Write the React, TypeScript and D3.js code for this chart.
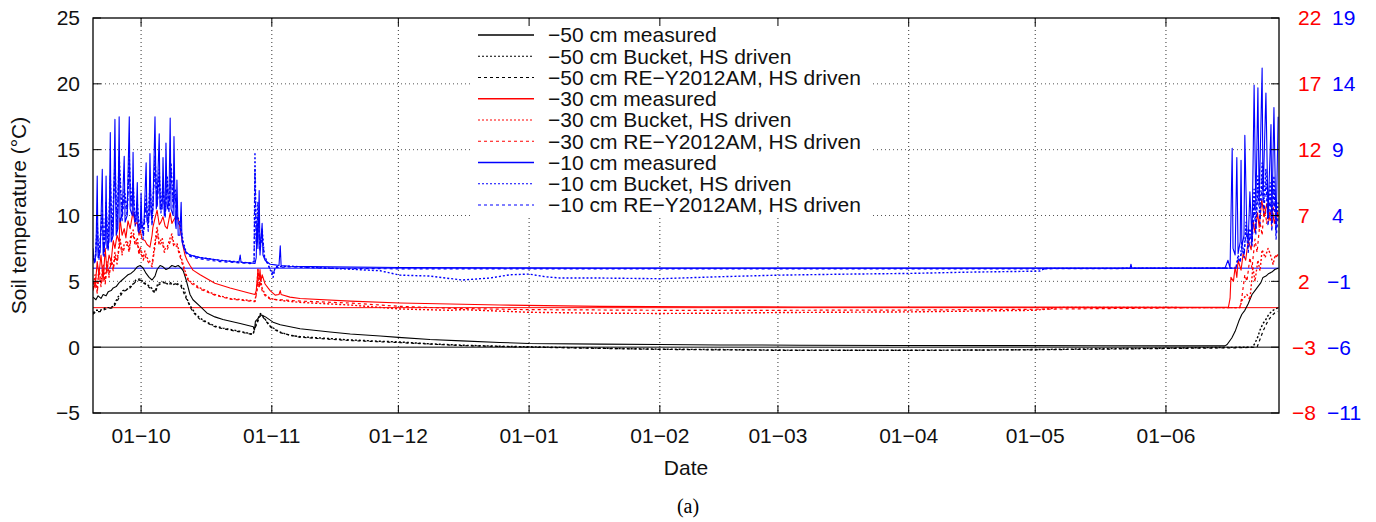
import React from "react";
import * as d3 from "d3";

// Time axis: days since 2012-10-01 (UTC); negative days are late September 2012.
const BASE = Date.UTC(2012, 9, 1);
const DAY_START = -11.4;
const DAY_END = 269.8;

const Y_LEFT_TICKS = [-5, 0, 5, 10, 15, 20, 25];
const Y_RED_TICKS = [-8, -3, 2, 7, 12, 17, 22];
const Y_BLUE_TICKS = [-11, -6, -1, 4, 9, 14, 19];

// -50 cm (left axis, °C)
const M50_MEASURED: [number, number][] = [
  [-11.4, 3.8], [-10.7, 3.6], [-10.2, 3.9], [-9.5, 3.7], [-9.0, 4.0], [-8.3, 3.9], [-7.8, 4.2], [-7.1, 4.3],
  [-6.6, 4.5], [-5.9, 4.6], [-5.2, 4.9], [-4.5, 5.1], [-3.8, 5.3], [-3.1, 5.5], [-2.4, 5.6], [-1.7, 5.8],
  [-0.9, 6.1], [-0.2, 6.2], [0.5, 6.0], [1.2, 5.6], [1.9, 5.3], [2.6, 5.1], [3.3, 5.4], [3.8, 5.9],
  [4.5, 6.2], [5.2, 6.1], [5.9, 5.9], [6.6, 6.0], [7.3, 6.2], [8.1, 6.1], [8.8, 6.2], [9.5, 6.0],
  [10.0, 5.8], [10.7, 5.1], [11.6, 4.0], [12.3, 3.6], [14.0, 3.1], [15.6, 2.6], [17.5, 2.3], [19.4, 2.1],
  [23.5, 1.8], [26.6, 1.55], [26.9, 1.3], [27.1, 1.95], [27.8, 2.2], [28.6, 2.45], [29.5, 2.3], [31.3, 1.9],
  [33.0, 1.7], [37.7, 1.4], [44.8, 1.15], [49.6, 1.0], [56.7, 0.85], [61.0, 0.74], [68.5, 0.58], [76.0, 0.48],
  [85.0, 0.36], [92.0, 0.28], [108.8, 0.23], [123.0, 0.2], [137.3, 0.17], [156.2, 0.15], [180.0, 0.13],
  [203.7, 0.12], [227.4, 0.11], [251.1, 0.1], [257.0, 0.1], [257.5, 0.2], [258.6, 0.7], [259.4, 1.2],
  [260.3, 2.0], [261.0, 2.5], [261.7, 2.8], [262.5, 3.3], [263.4, 4.0], [264.1, 4.3], [264.8, 4.6],
  [265.5, 4.9], [266.0, 5.3], [266.7, 5.4], [267.4, 5.6], [268.1, 5.7], [268.8, 5.9], [269.6, 6.0],
];
const M50_BUCKET: [number, number][] = [
  [-11.4, 2.6], [-10.7, 2.8], [-9.7, 2.8], [-9.0, 2.9], [-8.3, 3.0], [-7.6, 3.0], [-6.6, 3.1], [-5.5, 3.8],
  [-4.3, 4.3], [-3.3, 4.4], [-2.6, 4.6], [-1.9, 4.8], [-1.2, 5.1], [-0.2, 5.2], [0.5, 4.95], [1.2, 4.8],
  [2.1, 4.6], [2.8, 4.4], [3.3, 4.2], [4.0, 4.85], [5.2, 4.95], [6.2, 4.8], [6.9, 4.9], [7.6, 4.75],
  [8.3, 4.85], [9.5, 4.7], [10.2, 4.4], [10.7, 3.8], [11.4, 3.3], [11.9, 3.0], [13.0, 2.5], [14.0, 2.2],
  [15.6, 1.9], [17.5, 1.6], [19.4, 1.45], [23.5, 1.2], [26.3, 1.0], [26.6, 1.0], [26.8, 1.4], [27.5, 1.9],
  [28.0, 2.4], [28.3, 2.55], [29.0, 2.3], [30.6, 1.6], [32.9, 1.15], [35.3, 0.9], [37.7, 0.8], [44.8, 0.65],
  [49.6, 0.55], [56.7, 0.45], [61.0, 0.4], [68.5, 0.25], [76.0, 0.15], [85.0, 0.07], [92.0, 0.03],
  [108.8, -0.08], [123.0, -0.15], [137.3, -0.18], [151.0, -0.22], [168.0, -0.23], [182.0, -0.23],
  [196.5, -0.22], [212.0, -0.18], [227.4, -0.12], [243.0, -0.08], [251.0, -0.04], [263.5, 0.0],
  [264.1, 0.3], [264.8, 0.8], [265.3, 1.3], [266.0, 1.8], [266.5, 2.0], [267.2, 2.4], [267.7, 2.6],
  [268.4, 2.8], [268.9, 2.9], [269.6, 3.0],
];
const M50_RE: [number, number][] = [
  [-11.4, 2.5], [-10.7, 2.7], [-9.7, 2.7], [-8.3, 2.9], [-6.6, 3.0], [-5.5, 3.6], [-4.3, 4.2], [-2.6, 4.5],
  [-1.2, 5.0], [-0.2, 5.1], [0.5, 4.9], [2.1, 4.5], [3.3, 4.1], [4.0, 4.7], [5.2, 4.9], [6.9, 4.8],
  [8.3, 4.8], [9.5, 4.6], [10.7, 3.7], [11.9, 2.9], [13.0, 2.4], [14.0, 2.1], [15.6, 1.85], [17.5, 1.55],
  [19.4, 1.4], [23.5, 1.15], [26.6, 0.95], [26.8, 1.3], [27.5, 1.8], [28.3, 2.5], [29.0, 2.25], [30.6, 1.55],
  [32.9, 1.1], [37.7, 0.75], [49.6, 0.5], [61.0, 0.35], [76.0, 0.12], [92.0, 0.0], [123.0, -0.17],
  [151.0, -0.24], [182.0, -0.25], [212.0, -0.2], [243.0, -0.1], [260.0, -0.05], [264.6, 0.0], [265.3, 0.6],
  [266.0, 1.2], [266.7, 1.7], [267.4, 2.1], [268.1, 2.4], [268.8, 2.6], [269.6, 2.7],
];

// -30 cm (red axis, °C)
const M30_MEASURED: [number, number][] = [
  [-11.4, 2.0], [-10.9, 1.5], [-10.4, 3.5], [-10.0, 2.5], [-9.5, 4.0], [-9.0, 2.0], [-8.5, 4.5], [-8.1, 2.8],
  [-7.6, 4.0], [-7.1, 3.5], [-6.6, 5.1], [-6.2, 4.5], [-5.7, 5.5], [-5.2, 5.0], [-5.0, 6.8], [-4.5, 5.5],
  [-4.0, 6.0], [-3.6, 5.3], [-3.1, 6.6], [-2.6, 6.0], [-1.9, 7.3], [-1.4, 6.3], [-0.9, 6.5], [-0.5, 5.5],
  [-0.2, 5.9], [0.2, 5.2], [0.9, 5.1], [1.4, 4.8], [2.1, 4.6], [2.6, 5.5], [2.8, 6.1], [3.3, 6.8],
  [3.8, 7.4], [4.3, 6.3], [4.7, 6.5], [5.2, 6.9], [5.7, 6.2], [6.2, 6.0], [6.9, 7.2], [7.3, 6.4],
  [7.8, 6.7], [8.5, 7.0], [9.0, 6.5], [9.2, 6.1], [9.7, 5.2], [10.0, 4.6], [10.4, 4.0], [10.9, 3.6],
  [11.6, 3.2], [12.3, 2.85], [14.0, 2.5], [17.5, 1.85], [21.1, 1.5], [25.8, 1.1], [27.0, 1.0], [27.3, 1.3],
  [27.5, 2.0], [27.7, 2.8], [28.0, 2.2], [28.2, 2.9], [28.4, 2.0], [28.7, 2.5], [29.4, 1.8], [30.1, 1.5],
  [30.6, 1.3], [31.8, 0.95], [32.7, 1.0], [33.0, 1.3], [33.2, 1.0], [35.3, 0.8], [37.7, 0.7], [49.6, 0.5],
  [61.4, 0.35], [85.1, 0.2], [108.8, 0.1], [132.5, 0.07], [156.2, 0.05], [203.7, 0.04], [251.1, 0.03],
  [257.8, 0.03], [258.2, 0.7], [258.4, 2.3], [259.0, 2.0], [259.4, 3.1], [259.8, 2.3], [260.1, 3.6],
  [260.8, 2.85], [261.3, 4.1], [261.9, 3.6], [262.5, 5.1], [263.2, 4.4], [263.7, 6.6], [264.1, 5.7],
  [264.7, 7.2], [265.1, 6.1], [265.7, 8.2], [266.3, 6.9], [266.9, 7.9], [267.4, 6.6], [268.1, 7.6],
  [268.7, 6.4], [269.3, 7.4], [269.6, 6.9],
];
const M30_BUCKET: [number, number][] = [
  [-11.4, 1.5], [-10.9, 2.5], [-10.4, 1.3], [-10.0, 3.0], [-9.5, 1.8], [-9.0, 3.3], [-8.5, 2.0], [-8.1, 3.5],
  [-7.6, 2.5], [-7.1, 3.8], [-6.6, 3.0], [-6.2, 4.2], [-5.7, 3.5], [-5.0, 5.3], [-4.5, 4.2], [-4.0, 4.8],
  [-3.3, 5.1], [-2.8, 4.4], [-2.4, 5.6], [-1.9, 5.9], [-1.4, 4.9], [-0.9, 5.3], [-0.5, 4.2], [-0.2, 4.6],
  [0.5, 3.8], [0.9, 4.3], [1.4, 3.8], [2.1, 3.5], [2.6, 3.3], [3.1, 4.5], [3.8, 6.1], [4.3, 4.9],
  [5.0, 5.3], [5.5, 4.4], [6.2, 4.6], [6.9, 5.3], [7.3, 5.6], [7.8, 4.8], [8.5, 4.9], [9.0, 4.3],
  [9.7, 3.6], [10.4, 2.8], [10.9, 2.3], [11.6, 2.0], [12.3, 1.85], [14.0, 1.5], [17.5, 1.0], [21.1, 0.7],
  [25.8, 0.55], [27.0, 0.5], [27.5, 1.5], [27.7, 3.0], [28.0, 1.6], [28.2, 2.3], [28.7, 1.5], [29.4, 1.0],
  [30.6, 0.7], [33.0, 0.55], [37.7, 0.4], [49.6, 0.2], [61.4, -0.1], [73.3, -0.2], [76.1, -0.15],
  [92.0, -0.35], [108.8, -0.42], [123.0, -0.44], [137.3, -0.42], [151.0, -0.37], [182.1, -0.32],
  [212.0, -0.2], [218.1, 0.02], [260.5, 0.0], [261.0, 0.55], [262.2, 1.0], [262.9, 0.6], [263.4, 2.3],
  [263.6, 3.1], [264.1, 2.0], [264.8, 3.6], [265.3, 2.8], [265.8, 4.4], [266.5, 3.8], [267.2, 4.5],
  [267.7, 4.1], [268.4, 3.3], [268.9, 4.0], [269.3, 3.8], [269.6, 4.2],
];
const M30_RE: [number, number][] = [
  [-11.4, 1.3], [-10.9, 2.2], [-10.4, 1.1], [-10.0, 2.7], [-9.5, 1.6], [-9.0, 3.0], [-8.5, 1.8], [-8.1, 3.2],
  [-7.6, 2.3], [-7.1, 3.5], [-6.6, 2.8], [-6.2, 3.9], [-5.7, 3.3], [-5.0, 5.0], [-4.5, 4.0], [-4.0, 4.5],
  [-3.3, 4.8], [-2.8, 4.2], [-2.4, 5.3], [-1.9, 5.6], [-1.4, 4.7], [-0.9, 5.0], [-0.5, 4.0], [-0.2, 4.3],
  [0.5, 3.6], [0.9, 4.0], [1.4, 3.6], [2.1, 3.3], [2.6, 3.1], [3.1, 4.2], [3.8, 5.8], [4.3, 4.7],
  [5.0, 5.0], [5.5, 4.2], [6.2, 4.4], [6.9, 5.0], [7.3, 5.3], [7.8, 4.6], [8.5, 4.7], [9.0, 4.1],
  [9.7, 3.4], [10.4, 2.6], [10.9, 2.2], [11.6, 1.9], [12.3, 1.75], [14.0, 1.4], [17.5, 0.95], [21.1, 0.65],
  [25.8, 0.5], [27.0, 0.45], [27.5, 1.3], [27.7, 2.2], [28.0, 1.5], [28.2, 2.0], [28.7, 1.3], [29.4, 0.9],
  [30.6, 0.65], [33.0, 0.6], [37.7, 0.5], [49.6, 0.35], [61.4, 0.1], [73.3, -0.05], [92.0, -0.15],
  [123.0, -0.2], [151.0, -0.2], [182.0, -0.18], [212.0, -0.12], [235.0, -0.05], [250.0, 0.0], [260.5, 0.0],
  [261.0, 0.8], [261.7, 2.5], [262.2, 2.0], [262.9, 3.8], [263.4, 3.0], [264.1, 5.2], [264.6, 4.2],
  [265.3, 6.5], [265.8, 5.5], [266.3, 7.8], [266.9, 6.4], [267.4, 7.5], [268.1, 6.2], [268.6, 7.9],
  [269.1, 6.5], [269.6, 7.2],
];

// -10 cm (blue axis, °C)
const M10_MEASURED: [number, number][] = [
  [-11.4, 1.5], [-11.1, 0.4], [-10.7, 1.0], [-10.4, 7.0], [-10.2, 0.8], [-9.7, 1.2], [-9.2, 7.5], [-9.0, 1.0],
  [-8.5, 2.0], [-8.3, 7.0], [-8.1, 1.5], [-7.6, 2.0], [-7.3, 10.3], [-7.1, 2.0], [-6.6, 2.5], [-6.2, 11.3],
  [-5.9, 2.5], [-5.5, 3.0], [-5.2, 11.5], [-5.0, 3.5], [-4.5, 4.0], [-4.0, 8.5], [-3.8, 3.5], [-3.3, 4.0],
  [-2.8, 11.5], [-2.6, 4.5], [-2.1, 4.0], [-1.9, 8.8], [-1.7, 4.0], [-1.2, 3.5], [-0.9, 6.5], [-0.7, 2.8],
  [-0.2, 3.0], [0.0, 5.7], [0.2, 3.0], [0.7, 3.5], [1.2, 8.0], [1.4, 3.5], [1.9, 4.0], [2.1, 8.7],
  [2.4, 4.0], [2.8, 4.5], [3.3, 11.5], [3.6, 4.5], [3.8, 5.0], [4.3, 10.2], [4.5, 4.5], [5.0, 4.5],
  [5.2, 8.4], [5.5, 4.0], [5.7, 4.5], [5.9, 9.5], [6.2, 4.5], [6.6, 5.0], [6.9, 11.4], [7.1, 4.5],
  [7.6, 4.0], [7.8, 10.0], [8.1, 3.5], [8.3, 3.0], [8.5, 6.7], [8.8, 2.5], [9.2, 2.5], [9.5, 5.0],
  [9.7, 2.0], [10.2, 1.5], [10.7, 1.2], [11.6, 1.0], [14.0, 0.8], [18.7, 0.6], [23.2, 0.45], [23.5, 1.0],
  [23.7, 0.45], [25.8, 0.4], [27.0, 0.35], [27.3, 0.8], [27.5, 3.5], [27.7, 1.5], [28.0, 5.9], [28.2, 1.0],
  [28.4, 2.0], [28.7, 3.4], [28.9, 1.0], [29.4, 0.6], [30.6, 0.3], [31.8, 0.25], [32.7, 0.2], [33.0, 1.7],
  [33.2, 0.2], [35.3, 0.15], [44.8, 0.1], [61.4, 0.05], [85.1, 0.02], [108.8, 0.0], [234.5, 0.0],
  [234.7, 0.3], [234.9, 0.0], [257.0, 0.0], [257.7, 0.6], [258.2, 0.0], [258.7, 9.1], [258.9, 1.5],
  [259.4, 1.0], [259.8, 8.4], [260.1, 1.1], [260.6, 2.0], [260.8, 8.2], [261.0, 1.6], [261.5, 2.5],
  [261.7, 10.1], [262.2, 2.5], [262.5, 2.1], [262.9, 5.8], [263.4, 2.0], [263.9, 13.9], [264.3, 4.4],
  [264.8, 13.7], [265.1, 4.9], [265.8, 15.2], [266.0, 5.2], [266.7, 13.3], [267.2, 3.9], [267.9, 10.9],
  [268.1, 3.5], [268.6, 12.2], [269.1, 2.7], [269.6, 11.5],
];
const M10_BUCKET: [number, number][] = [
  [-11.4, 1.0], [-10.9, 0.5], [-10.4, 3.5], [-10.0, 0.8], [-9.2, 4.5], [-8.8, 1.0], [-8.3, 5.0], [-7.8, 1.5],
  [-7.3, 7.0], [-6.9, 2.5], [-6.2, 8.0], [-5.7, 3.0], [-5.2, 8.5], [-4.5, 4.0], [-4.0, 6.0], [-3.3, 4.5],
  [-2.8, 8.5], [-2.4, 5.0], [-1.9, 6.5], [-1.4, 3.5], [-0.9, 5.0], [-0.5, 3.0], [0.0, 4.0], [0.5, 2.5],
  [1.2, 5.5], [1.7, 3.0], [2.1, 6.5], [2.6, 3.5], [3.3, 8.5], [3.8, 5.0], [4.3, 7.5], [4.7, 4.5],
  [5.2, 6.5], [5.7, 4.0], [6.2, 7.0], [6.6, 4.5], [7.1, 8.0], [7.6, 5.0], [8.1, 6.0], [8.5, 4.0],
  [9.2, 3.5], [10.0, 2.0], [10.7, 1.2], [11.6, 1.0], [14.0, 0.8], [18.7, 0.6], [25.8, 0.4], [26.8, 0.5],
  [27.0, 8.8], [27.3, 2.0], [27.7, 5.0], [28.2, 1.5], [28.7, 3.0], [29.2, 1.0], [30.1, 0.3], [31.1, -0.5],
  [31.3, -0.7], [31.8, 0.1], [35.3, 0.15], [44.8, 0.0], [56.7, -0.2], [61.4, -0.53], [68.5, -0.6],
  [76.1, -0.9], [82.7, -0.75], [87.5, -0.5], [92.0, -0.45], [95.8, -0.65], [99.3, -0.75], [108.8, -0.75],
  [123.0, -0.8], [137.3, -0.65], [151.0, -0.53], [168.1, -0.45], [182.1, -0.4], [196.5, -0.3],
  [212.0, -0.23], [213.1, -0.22], [214.3, -0.02], [259.6, 0.0], [260.1, 1.0], [260.6, 0.5], [261.0, 2.0],
  [261.5, 1.0], [262.0, 3.5], [262.5, 1.5], [262.9, 3.0], [263.4, 2.0], [263.9, 6.0], [264.3, 3.0],
  [264.8, 7.0], [265.3, 4.0], [265.8, 8.0], [266.2, 5.0], [266.7, 7.5], [267.2, 4.0], [267.7, 6.5],
  [268.1, 3.5], [268.6, 7.0], [269.1, 3.0], [269.6, 5.0],
];
const M10_RE: [number, number][] = [
  [-11.4, 0.8], [-10.9, 0.4], [-10.4, 3.0], [-10.0, 0.6], [-9.2, 4.0], [-8.8, 0.9], [-8.3, 4.6], [-7.8, 1.3],
  [-7.3, 6.4], [-6.9, 2.2], [-6.2, 7.5], [-5.7, 2.8], [-5.2, 8.0], [-4.5, 3.6], [-4.0, 5.5], [-3.3, 4.0],
  [-2.8, 8.0], [-2.4, 4.6], [-1.9, 6.0], [-1.4, 3.2], [-0.9, 4.6], [-0.5, 2.7], [0.0, 3.6], [0.5, 2.2],
  [1.2, 5.0], [1.7, 2.8], [2.1, 6.0], [2.6, 3.2], [3.3, 8.0], [3.8, 4.6], [4.3, 7.0], [4.7, 4.2],
  [5.2, 6.0], [5.7, 3.8], [6.2, 6.5], [6.6, 4.2], [7.1, 7.5], [7.6, 4.6], [8.1, 5.5], [8.5, 3.7],
  [9.2, 3.2], [10.0, 1.8], [10.7, 1.1], [11.6, 0.9], [14.0, 0.7], [18.7, 0.5], [25.8, 0.35], [26.8, 0.45],
  [27.0, 7.5], [27.3, 1.8], [27.7, 4.2], [28.2, 1.3], [28.7, 2.6], [29.2, 0.9], [30.1, 0.2], [31.1, -0.3],
  [31.3, -0.5], [31.8, 0.05], [35.3, 0.1], [44.8, -0.02], [61.4, -0.05], [92.0, -0.05], [151.0, -0.05],
  [212.0, -0.05], [257.0, 0.0], [259.6, 0.0], [260.1, 0.8], [260.6, 0.4], [261.0, 1.6], [261.5, 0.8],
  [262.0, 3.0], [262.5, 1.2], [262.9, 2.5], [263.4, 1.6], [263.9, 5.0], [264.3, 2.5], [264.8, 6.0],
  [265.3, 3.4], [265.8, 7.0], [266.2, 4.2], [266.7, 6.5], [267.2, 3.2], [267.7, 5.5], [268.1, 2.8],
  [268.6, 6.0], [269.1, 2.2], [269.6, 4.0],
];

const LEGEND_LABELS = [
  "−50 cm measured",
  "−50 cm Bucket, HS driven",
  "−50 cm RE−Y2012AM, HS driven",
  "−30 cm measured",
  "−30 cm Bucket, HS driven",
  "−30 cm RE−Y2012AM, HS driven",
  "−10 cm measured",
  "−10 cm Bucket, HS driven",
  "−10 cm RE−Y2012AM, HS driven",
];

const W = 1376;
const H = 522;
const M = { left: 93, right: 1279, top: 18, bottom: 413 };
const FONT = "'Liberation Sans', Arial, Helvetica, sans-serif";
const RED = "#ff0000";
const BLUE = "#0000ff";

const toDate = (d: number) => new Date(BASE + d * 864e5);

export default function App() {
  const x = d3.scaleUtc().domain([toDate(DAY_START), toDate(DAY_END)]).range([M.left, M.right]);
  const yL = d3.scaleLinear().domain([-5, 25]).range([M.bottom, M.top]);
  const yR = d3.scaleLinear().domain([-8, 22]).range([M.bottom, M.top]);
  const yB = d3.scaleLinear().domain([-11, 19]).range([M.bottom, M.top]);

  const months = d3.utcMonth.range(toDate(DAY_START), toDate(DAY_END));
  const fmt = d3.utcFormat("%d−%m");

  const series = [
    { data: M50_MEASURED, y: yL, color: "#000", dash: "", w: 1.1 },
    { data: M50_BUCKET, y: yL, color: "#000", dash: "2,2", w: 1.4 },
    { data: M50_RE, y: yL, color: "#000", dash: "3,3", w: 1.2 },
    { data: M30_MEASURED, y: yR, color: RED, dash: "", w: 1.1 },
    { data: M30_BUCKET, y: yR, color: RED, dash: "2,2", w: 1.4 },
    { data: M30_RE, y: yR, color: RED, dash: "3,3", w: 1.2 },
    { data: M10_MEASURED, y: yB, color: BLUE, dash: "", w: 1.1 },
    { data: M10_BUCKET, y: yB, color: BLUE, dash: "2,2", w: 1.4 },
    { data: M10_RE, y: yB, color: BLUE, dash: "3,3", w: 1.2 },
  ];

  const lineFor = (ys: d3.ScaleLinear<number, number>) =>
    d3
      .line<[number, number]>()
      .x((d) => x(toDate(d[0])))
      .y((d) => ys(d[1]));

  const legX0 = 478;
  const legX1 = 534;
  const legTextX = 548;
  const legY0 = 35;
  const legDy = 21.25;

  return (
    <svg
      width={W}
      height={H}
      style={{ position: "absolute", left: 0, top: 0, background: "#fff" }}
      fontFamily={FONT}
    >
      <defs>
        <clipPath id="plot">
          <rect x={M.left} y={M.top} width={M.right - M.left} height={M.bottom - M.top} />
        </clipPath>
      </defs>
      <rect x={0} y={0} width={W} height={H} fill="#fff" />

      {/* grid */}
      {Y_LEFT_TICKS.filter((t) => t !== 0 && t !== -5 && t !== 25).map((t) => (
        <line key={"gy" + t} x1={M.left} x2={M.right} y1={yL(t)} y2={yL(t)} stroke="#555" strokeWidth={1} strokeDasharray="1,3" />
      ))}
      {months.map((m) => (
        <line key={"gx" + m.getTime()} x1={x(m)} x2={x(m)} y1={M.top} y2={M.bottom} stroke="#333" strokeWidth={1} strokeDasharray="1,3" />
      ))}

      {/* zero lines for each depth */}
      <line x1={M.left} x2={M.right} y1={yL(0)} y2={yL(0)} stroke="#000" strokeWidth={1} />
      <line x1={M.left} x2={M.right} y1={yR(0)} y2={yR(0)} stroke={RED} strokeWidth={1} />
      <line x1={M.left} x2={M.right} y1={yB(0)} y2={yB(0)} stroke={BLUE} strokeWidth={1} />

      {/* data */}
      <g clipPath="url(#plot)">
        {series.map((s, i) => (
          <path
            key={"s" + i}
            d={lineFor(s.y)(s.data) || ""}
            fill="none"
            stroke={s.color}
            strokeWidth={s.w}
            strokeDasharray={s.dash || undefined}
            strokeLinejoin="round"
          />
        ))}
      </g>

      {/* legend */}
      <rect x={472} y={22} width={400} height={195} fill="#fff" />
      {LEGEND_LABELS.map((lab, i) => {
        const s = series[i];
        const yy = legY0 + i * legDy;
        return (
          <g key={"lg" + i}>
            <line x1={legX0} x2={legX1} y1={yy} y2={yy} stroke={s.color} strokeWidth={s.dash ? 1.2 : 1.4} strokeDasharray={s.dash || undefined} />
            <text x={legTextX} y={yy} dy="0.35em" fontSize={21} fill="#111">
              {lab}
            </text>
          </g>
        );
      })}

      {/* border */}
      <rect x={M.left} y={M.top} width={M.right - M.left} height={M.bottom - M.top} fill="none" stroke="#000" strokeWidth={1.3} />

      {/* y ticks left & right */}
      {Y_LEFT_TICKS.map((t) => (
        <g key={"yt" + t}>
          <line x1={M.left} x2={M.left + 8} y1={yL(t)} y2={yL(t)} stroke="#000" />
          <line x1={M.right - 8} x2={M.right} y1={yL(t)} y2={yL(t)} stroke="#000" />
          <text x={80} y={yL(t)} dy="0.35em" textAnchor="end" fontSize={21} fill="#111">
            {t < 0 ? "−" + Math.abs(t) : String(t)}
          </text>
        </g>
      ))}
      {Y_RED_TICKS.map((t) => (
        <text key={"yr" + t} x={t < 0 ? 1292 : 1298} y={yR(t)} dy="0.35em" fontSize={21} fill={RED}>
          {t < 0 ? "−" + Math.abs(t) : String(t)}
        </text>
      ))}
      {Y_BLUE_TICKS.map((t) => (
        <text key={"yb" + t} x={t < 0 ? 1327 : 1332} y={yB(t)} dy="0.35em" fontSize={21} fill={BLUE}>
          {t < 0 ? "−" + Math.abs(t) : String(t)}
        </text>
      ))}

      {/* x ticks */}
      {months.map((m) => (
        <g key={"xt" + m.getTime()}>
          <line x1={x(m)} x2={x(m)} y1={M.bottom} y2={M.bottom - 8} stroke="#000" />
          <line x1={x(m)} x2={x(m)} y1={M.top} y2={M.top + 8} stroke="#000" />
          <text x={x(m)} y={443} textAnchor="middle" fontSize={21} fill="#111">
            {fmt(m)}
          </text>
        </g>
      ))}

      {/* titles */}
      <text x={686} y={475} textAnchor="middle" fontSize={21} fill="#111">
        Date
      </text>
      <text
        transform={`translate(26,${(M.top + M.bottom) / 2}) rotate(-90)`}
        textAnchor="middle"
        fontSize={21}
        fill="#111"
      >
        Soil temperature (°C)
      </text>
      <text x={688} y={513} textAnchor="middle" fontSize={20} fontFamily="'Liberation Serif', 'Times New Roman', serif" fill="#000">
        (a)
      </text>
    </svg>
  );
}
